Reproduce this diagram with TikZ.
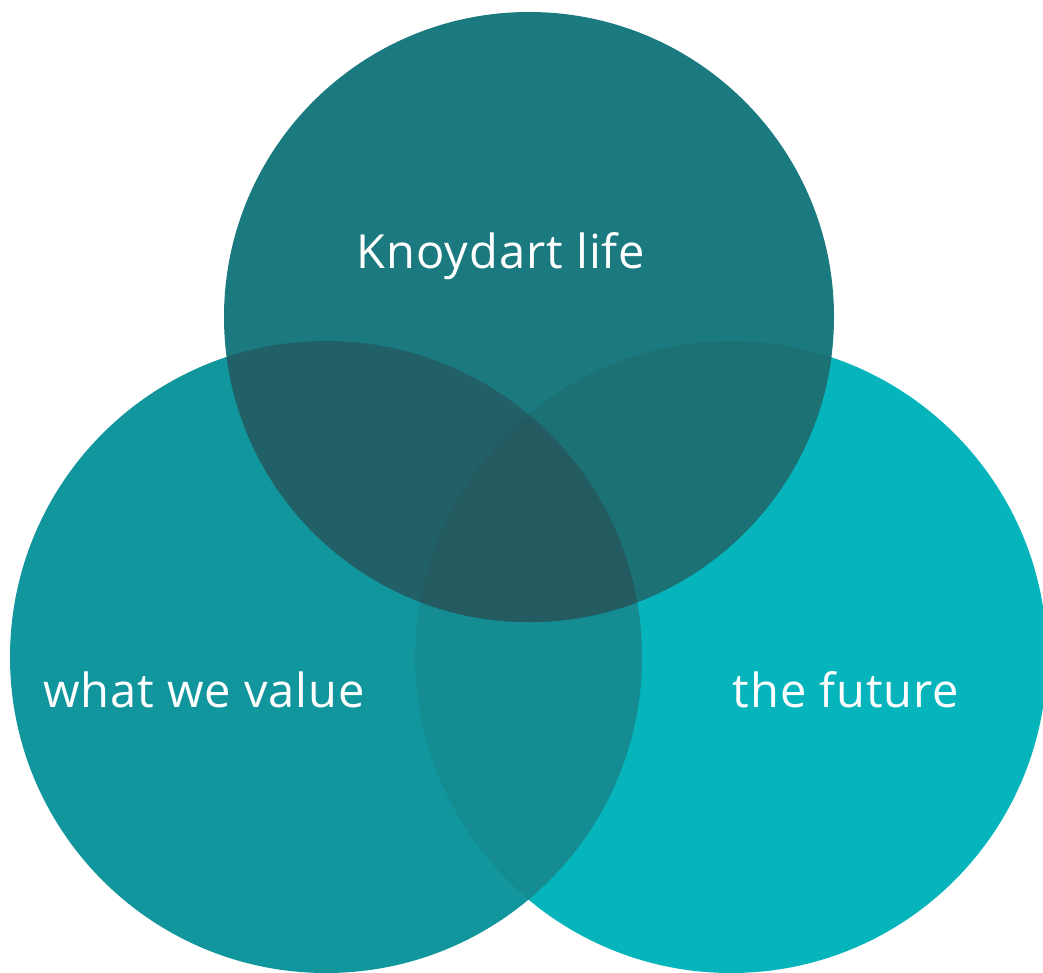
\documentclass[tikz,border=0pt]{standalone}
\usepackage{fontspec}
\setmainfont{Open Sans}[LetterSpace=2]
\definecolor{cL}{HTML}{12969E}
\definecolor{cR}{HTML}{06B4BC}
\definecolor{cT}{HTML}{1B7A7F}
\definecolor{cLR}{HTML}{158B92}
\definecolor{cTL}{HTML}{216066}
\definecolor{cTR}{HTML}{1B7174}
\definecolor{cTLR}{HTML}{235B60}
\tikzset{lbl/.style={text=white,font=\fontsize{47}{52}\selectfont,inner sep=0pt}}
\begin{document}
\begin{tikzpicture}[x=1pt,y=-1pt]
\useasboundingbox (0,0) rectangle (1043,972);
\fill[white] (0,0) rectangle (1043,972);
\def\circL{(326,657) circle[radius=316]}
\def\circR{(731,657) circle[radius=316]}
\def\circT{(529,317) circle[radius=305]}
\fill[cL] \circL;
\fill[cR] \circR;
\begin{scope}\clip \circL; \fill[cLR] \circR; \end{scope}
\fill[cT] \circT;
\begin{scope}\clip \circT; \fill[cTL] \circL; \fill[cTR] \circR;
  \clip \circL; \fill[cTLR] \circR; \end{scope}
\node[lbl,anchor=base] (knoy) at (501,268) {Knoydart life};
\node[lbl,anchor=base] (value) at (204,707) {what we value};
\node[lbl,anchor=base] (future) at (846,707) {the future};
\end{tikzpicture}
\end{document}
